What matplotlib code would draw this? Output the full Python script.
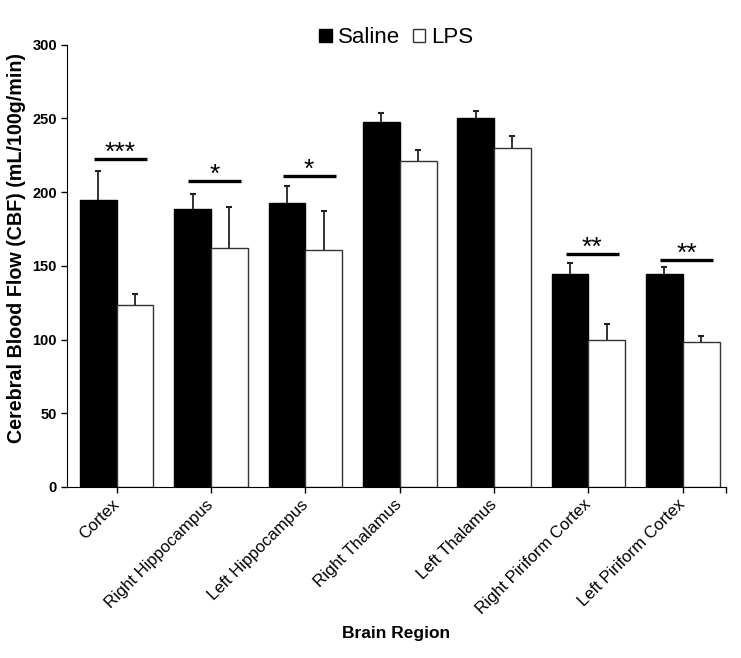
import matplotlib
matplotlib.use("Agg")
import matplotlib.pyplot as plt
import numpy as np

plt.rcParams["font.family"] = ["Liberation Sans", "DejaVu Sans"]

# 資料
regions = ["Cortex", "Right Hippocampus", "Left Hippocampus", "Right Thalamus",
           "Left Thalamus", "Right Piriform Cortex", "Left Piriform Cortex"]
saline = [194.6, 188.7, 192.3, 247.5, 250.2, 144.5, 144.5]
saline_err = [19.5, 10.3, 11.7, 6.1, 4.8, 7.6, 5.0]
lps = [123.6, 161.8, 161.0, 220.8, 230.0, 99.5, 98.5]
lps_err = [7.4, 28.2, 26.0, 7.8, 8.0, 10.8, 4.0]

# 顯著性標記：組別索引、星號、橫線高度
sig_idx = [0, 1, 2, 5, 6]
sig_text = ["***", "*", "*", "**", "**"]
sig_y = [222.4, 207.7, 210.7, 157.8, 153.9]

fig = plt.figure(figsize=(7.41, 6.58), dpi=100)
ax = fig.add_axes([0.090, 0.260, 0.890, 0.672])

x = np.arange(len(regions))
w = 0.39
ax.bar(x - w / 2, saline, w, color="black", edgecolor="black", linewidth=1,
       label="Saline", zorder=2)
ax.bar(x + w / 2, lps, w, color="white", edgecolor="#333333", linewidth=1,
       label="LPS", zorder=2)

# 只畫向上的誤差線
for xs, ys, es in [(x - w / 2, saline, saline_err), (x + w / 2, lps, lps_err)]:
    tops = np.array(ys) + np.array(es)
    ax.vlines(xs, ys, tops, color="#222222", lw=1.3, zorder=3)
    ax.plot(xs, tops, ls="none", marker="_", ms=5, mew=1.5, color="#222222", zorder=3)

for i, t, y in zip(sig_idx, sig_text, sig_y):
    ax.plot([i - 0.24, i + 0.32], [y, y], color="black", lw=2.4, solid_capstyle="butt")
    ax.text(i + 0.04, y - 0.5, t, ha="center", va="baseline", fontsize=19)

ax.set_xlim(-0.53, 6.46)
ax.set_ylim(0, 300)
ax.set_yticks(range(0, 301, 50))
ax.set_xticks(x)
ax.set_xticks([6.46], minor=True)
ax.set_xticklabels(regions, rotation=45, ha="right", va="center",
                   rotation_mode="anchor", fontsize=12)
for lab in ax.get_yticklabels():
    lab.set_fontweight("bold")
    lab.set_fontsize(10.5)
ax.tick_params(axis="y", length=4, width=1, pad=3)
ax.tick_params(axis="x", which="both", length=4, width=1, pad=7)
ax.spines["top"].set_visible(False)
ax.spines["right"].set_visible(False)
ax.set_ylabel("Cerebral Blood Flow (CBF) (mL/100g/min)", fontsize=14.2, fontweight="bold")
ax.yaxis.set_label_coords(-0.062, 0.54)
ax.set_xlabel("Brain Region", fontsize=12.5, fontweight="bold", labelpad=6)

ax.legend(loc="upper center", bbox_to_anchor=(0.5, 1.085), ncol=2, frameon=False,
          fontsize=16, handlelength=0.55, handleheight=0.55, handletextpad=0.27,
          columnspacing=0.6)

fig.savefig("out.png", dpi=100)
